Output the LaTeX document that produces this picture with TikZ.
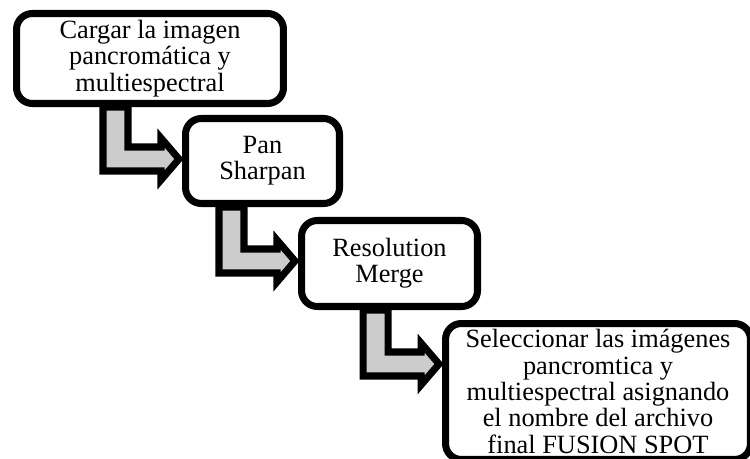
\documentclass[tikz,border=0pt]{standalone}
\usepackage{fontspec}
\setmainfont{Liberation Serif}
\usetikzlibrary{calc,backgrounds}

\begin{document}
\begin{tikzpicture}[x=0.02cm, y=-0.02cm,
    stepbox/.style={draw, line width=4pt, rounded corners=9pt, fill=white,
        align=center, inner sep=0pt, font=\fontsize{15}{15}\selectfont},
    bentarrow/.style={draw, line width=4pt, fill=gray!40, line join=miter}]
    % Page frame
    \useasboundingbox (0,0) rectangle (750,459);
    \clip (0,0) rectangle (750,459);

    % Steps
    \node[stepbox, minimum width=5.34cm, minimum height=1.8cm] (load) at (150,58.5)
        {Cargar la imagen\\pancromática y\\multiespectral};
    \node[stepbox, minimum width=3.08cm, minimum height=1.7cm] (pan) at (262.5,161)
        {Pan\\Sharpan};
    \node[stepbox, minimum width=3.52cm, minimum height=1.72cm] (merge) at (389.5,263.5)
        {Resolution\\Merge};
    \node[stepbox, minimum width=6.1cm, minimum height=2.72cm] (select) at (598,391.5)
        {Seleccionar las imágenes\\pancromtica y\\multiespectral asignando\\el nombre del archivo\\final FUSION SPOT};

    % Bent arrows between steps
    \begin{scope}[on background layer]
        \foreach \from/\to in {load/pan, pan/merge, merge/select} {
            \coordinate (tip) at ($(\to.north west)+(-3,44)$);
            \coordinate (sl) at ($(tip)+(-76,0)$);
            \coordinate (sr) at ($(tip)+(-51,0)$);
            \draw[bentarrow] (tip) -- ++(-18,21) -- ++(0,-9) -- ($(sl)+(0,12)$)
                -- (sl |- \from.south) -- (sr |- \from.south) -- ($(sr)+(0,-12)$)
                -- ($(tip)+(-18,-12)$) -- ++(0,-9) -- cycle;
        }
    \end{scope}
\end{tikzpicture}
\end{document}
